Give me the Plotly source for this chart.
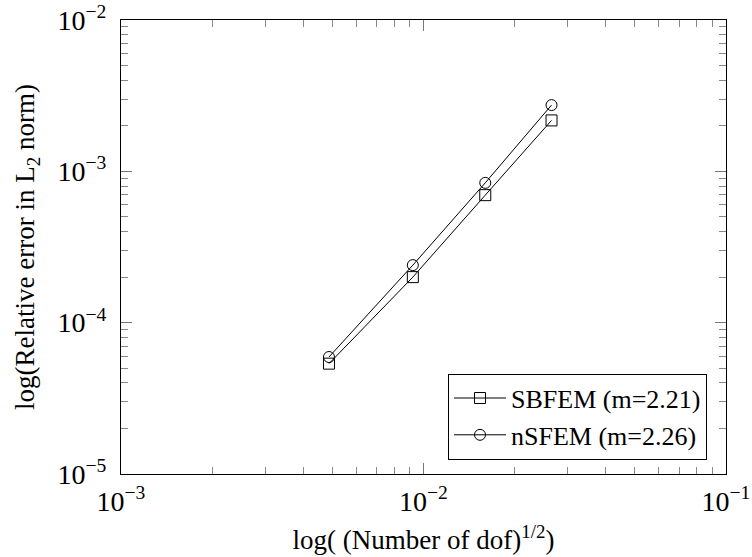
import plotly.graph_objects as go

x_vals = [0.00487, 0.00922, 0.0160, 0.0265]
sbfem = [5.36e-5, 2.00e-4, 6.96e-4, 2.17e-3]
nsfem = [5.93e-5, 2.40e-4, 8.39e-4, 2.74e-3]
names = ["SBFEM (m=2.21)", "nSFEM (m=2.26)"]
xtick_vals = [1e-3, 1e-2, 1e-1]
xtick_text = ["10<sup>−3</sup>", "10<sup>−2</sup>", "10<sup>−1</sup>"]
ytick_vals = [1e-5, 1e-4, 1e-3, 1e-2]
ytick_text = ["10<sup>−5</sup>", "10<sup>−4</sup>", "10<sup>−3</sup>", "10<sup>−2</sup>"]
x_minor = [m * 10.0 ** e for e in (-3, -2) for m in range(2, 10)]
y_minor = [m * 10.0 ** e for e in (-5, -4, -3) for m in range(2, 10)]

serif = "Liberation Serif"

fig = go.Figure()
fig.add_trace(go.Scatter(x=x_vals, y=sbfem, mode="lines+markers", name=names[0],
                         line=dict(color="black", width=1),
                         marker=dict(symbol="square-open", size=11, color="black", line=dict(width=1))))
fig.add_trace(go.Scatter(x=x_vals, y=nsfem, mode="lines+markers", name=names[1],
                         line=dict(color="black", width=1),
                         marker=dict(symbol="circle-open", size=11, color="black", line=dict(width=1))))

axis_common = dict(type="log", showgrid=False, zeroline=False, showline=True, linecolor="black",
                   linewidth=1.3, mirror="allticks", ticks="inside", ticklen=11, tickcolor="#777",
                   tickwidth=1, automargin=False,
                   tickfont=dict(family=serif, size=28, color="black"))

fig.update_xaxes(range=[-3, -1], tickvals=xtick_vals, ticktext=xtick_text, ticklabelstandoff=2,
                 minor=dict(tickmode="array", tickvals=x_minor, ticks="inside", ticklen=7,
                            tickcolor="#888", tickwidth=1, showgrid=False),
                 title=dict(text="log( (Number of dof)<sup>1/2</sup>)",
                            font=dict(family=serif, size=27, color="black"), standoff=14),
                 **axis_common)
fig.update_yaxes(range=[-5, -2], tickvals=ytick_vals, ticktext=ytick_text, ticklabelstandoff=8,
                 minor=dict(tickmode="array", tickvals=y_minor, ticks="inside", ticklen=7,
                            tickcolor="#888", tickwidth=1, showgrid=False),
                 title=dict(text="log(Relative error in L<sub>2</sub> norm)",
                            font=dict(family=serif, size=27, color="black"), standoff=14),
                 **axis_common)

fig.update_layout(width=752, height=557, margin=dict(l=121, r=26, t=20, b=83),
                  plot_bgcolor="white", paper_bgcolor="white",
                  font=dict(family=serif, color="black"),
                  showlegend=True,
                  legend=dict(x=0.9686, y=0.0317, xanchor="right", yanchor="bottom",
                              bordercolor="black", borderwidth=1, bgcolor="white",
                              font=dict(family=serif, size=26, color="black"),
                              tracegroupgap=0, itemwidth=52))
fig.write_html("out.html")
